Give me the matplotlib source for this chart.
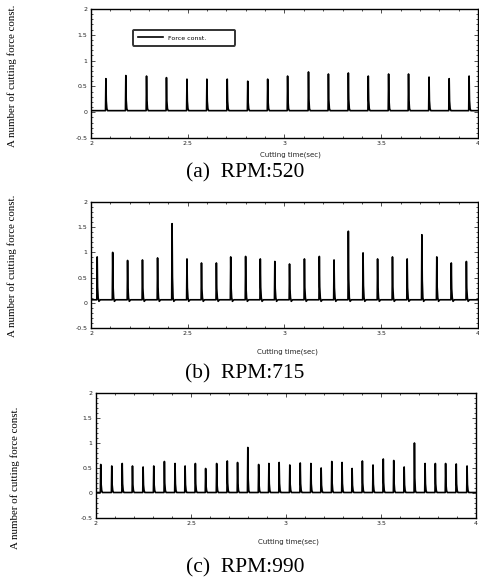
import numpy as np
import matplotlib.pyplot as plt

# peak times (sec) and peak heights
t_520 = [2.077, 2.180, 2.287, 2.390, 2.496, 2.599, 2.704, 2.810, 2.913, 3.016,
         3.124, 3.227, 3.330, 3.433, 3.538, 3.641, 3.747, 3.851, 3.954]
h_520 = [0.65, 0.71, 0.70, 0.67, 0.64, 0.64, 0.64, 0.60, 0.64, 0.70,
         0.78, 0.74, 0.76, 0.70, 0.74, 0.74, 0.68, 0.65, 0.70]
base_520 = 0.03

t_715 = [2.032, 2.112, 2.189, 2.266, 2.344, 2.419, 2.496, 2.571, 2.648, 2.722,
         2.799, 2.875, 2.950, 3.026, 3.103, 3.180, 3.256, 3.330, 3.406, 3.481,
         3.558, 3.634, 3.710, 3.787, 3.862, 3.940]
h_715 = [0.91, 1.00, 0.84, 0.85, 0.89, 1.57, 0.87, 0.79, 0.79, 0.91,
         0.92, 0.87, 0.82, 0.77, 0.87, 0.92, 0.85, 1.42, 0.99, 0.87,
         0.91, 0.87, 1.35, 0.91, 0.79, 0.82]
base_715 = 0.06

t_990 = [2.025, 2.083, 2.138, 2.192, 2.248, 2.304, 2.360, 2.416, 2.469, 2.523,
         2.577, 2.635, 2.691, 2.745, 2.799, 2.856, 2.910, 2.964, 3.020, 3.075,
         3.131, 3.185, 3.241, 3.295, 3.348, 3.402, 3.458, 3.512, 3.567, 3.622,
         3.676, 3.732, 3.786, 3.840, 3.896, 3.953]
h_990 = [0.57, 0.54, 0.59, 0.54, 0.52, 0.54, 0.63, 0.59, 0.54, 0.59,
         0.49, 0.59, 0.64, 0.61, 0.91, 0.57, 0.59, 0.61, 0.56, 0.60,
         0.59, 0.50, 0.63, 0.61, 0.49, 0.64, 0.56, 0.68, 0.65, 0.52,
         1.00, 0.59, 0.59, 0.59, 0.58, 0.54]
base_990 = 0.01

xticks = [2, 2.5, 3, 3.5, 4]
xticklabels = ["2", "2.5", "3", "3.5", "4"]
yticks = [-0.5, 0, 0.5, 1, 1.5, 2]
yticklabels = ["-0.5", "0", "0.5", "1", "1.5", "2"]
captions = ["(a)  RPM:520", "(b)  RPM:715", "(c)  RPM:990"]


def trace(times, heights, base, dip):
    # baseline with a sharp spike at each peak time
    xs = [2.0]
    ys = [base]
    for t, h in zip(times, heights):
        xs += [t - 0.002, t, t + 0.002, t + 0.005, t + 0.009, t + 0.016]
        ys += [base, h, base + 0.3 * (h - base), base + 0.04, base - dip, base]
    xs.append(4.0)
    ys.append(base)
    return xs, ys


W, H = 479, 581
fig = plt.figure(figsize=(W / 100, H / 100), dpi=100)


def px_axes(l, t, r, b):
    return fig.add_axes([l / W, 1 - b / H, (r - l) / W, (b - t) / H])


def px_text(x, y, s, **kw):
    fig.text(x / W, 1 - y / H, s, ha="center", va="center", **kw)


boxes = [(91, 9, 478, 138), (91, 202, 478, 328), (96, 393, 476, 518)]
data = [(t_520, h_520, base_520, 0.0),
        (t_715, h_715, base_715, 0.03),
        (t_990, h_990, base_990, 0.0)]
xlab_y = [155, 352, 542]
xlab_x = [290, 287, 288]
cap_y = [173, 374, 568]
ylab = [(12, 76), (12, 266), (15, 478)]

for i in range(3):
    ax = px_axes(*boxes[i])
    xs, ys = trace(*data[i])
    ax.plot(xs, ys, color="black", lw=1.2, label="Force const.            ")
    ax.set_xlim(2, 4)
    ax.set_ylim(-0.5, 2)
    ax.set_xticks(xticks)
    ax.set_xticklabels(xticklabels)
    ax.set_yticks(yticks)
    ax.set_yticklabels(yticklabels)
    ax.set_xticks(np.arange(2, 4.01, 0.1), minor=True)
    ax.set_yticks(np.arange(-0.5, 2.01, 0.1), minor=True)
    ax.tick_params(which="both", direction="in", top=True, right=True,
                   width=0.6, color="#333333")
    ax.tick_params(which="major", length=3, labelsize=4.5, pad=2.5,
                   labelcolor="#222222")
    ax.tick_params(which="minor", length=1.5)
    for s in ax.spines.values():
        s.set_linewidth(1.0)
    if i == 0:
        leg = ax.legend(loc="upper left", bbox_to_anchor=(0.10, 0.86),
                        fontsize=4.5, handlelength=4.0, frameon=True,
                        fancybox=True, borderpad=0.8, handletextpad=0.8)
        leg.get_frame().set_edgecolor("black")
        leg.get_frame().set_linewidth(1.4)
    px_text(xlab_x[i], xlab_y[i], "Cutting time(sec)", fontsize=5,
            color="#222222")
    px_text(245, cap_y[i], captions[i], fontsize=15.5,
            family="Liberation Serif")
    px_text(ylab[i][0], ylab[i][1], "A number of cutting force const.",
            fontsize=7.8, rotation=90, family="Liberation Serif")

fig.savefig("out.png", dpi=100)
